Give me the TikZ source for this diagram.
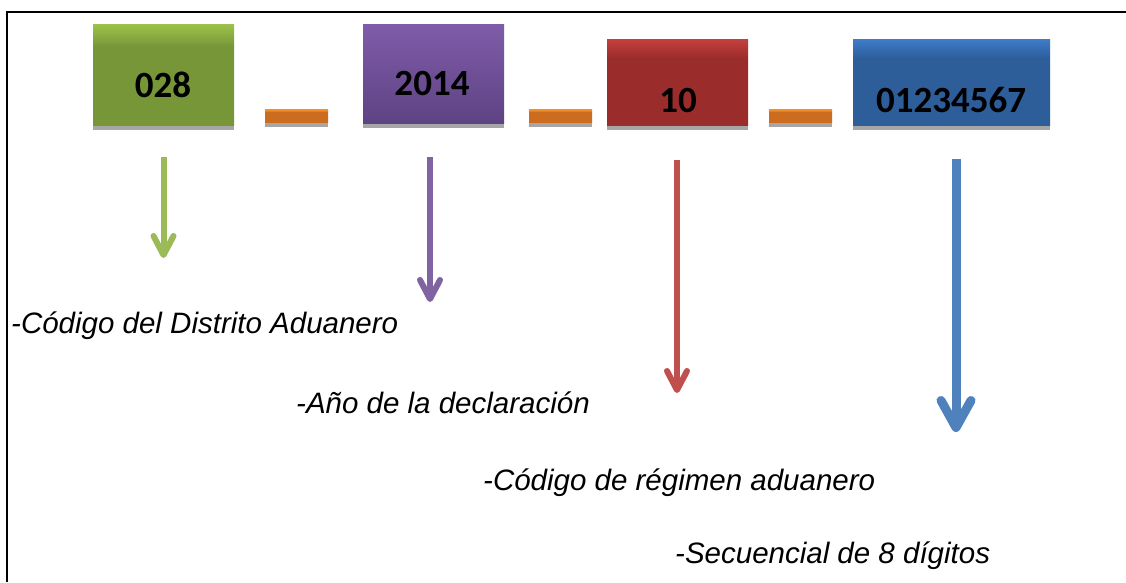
\documentclass[tikz,border=0pt]{standalone}
\usepackage{fontspec}
\setmainfont{Liberation Sans}
\newfontfamily\calib{Carlito}
\usetikzlibrary{arrows.meta}
\definecolor{gmain}{HTML}{779638}
\definecolor{glight}{HTML}{9DC24A}
\definecolor{ptop}{HTML}{7F5CA8}
\definecolor{pbot}{HTML}{5E4384}
\definecolor{rmain}{HTML}{9A2D2B}
\definecolor{rlight}{HTML}{C4403E}
\definecolor{bmain}{HTML}{2D5E99}
\definecolor{blight}{HTML}{3E7BC9}
\definecolor{omain}{HTML}{CB6C1E}
\definecolor{olight}{HTML}{F58D2A}
\definecolor{shgray}{HTML}{A6A6A6}
\definecolor{agreen}{HTML}{9BBB59}
\definecolor{apurple}{HTML}{8064A2}
\definecolor{ared}{HTML}{C0504D}
\definecolor{ablue}{HTML}{4F81BD}
\pgfdeclareverticalshading{gsh}{100bp}{color(0bp)=(gmain); color(64bp)=(gmain); color(75bp)=(glight); color(100bp)=(glight)}
\pgfdeclareverticalshading{rsh}{100bp}{color(0bp)=(rmain); color(64bp)=(rmain); color(75bp)=(rlight); color(100bp)=(rlight)}
\pgfdeclareverticalshading{bsh}{100bp}{color(0bp)=(bmain); color(64bp)=(bmain); color(75bp)=(blight); color(100bp)=(blight)}
\pgfdeclareverticalshading{osh}{100bp}{color(0bp)=(omain); color(66bp)=(omain); color(70bp)=(olight); color(100bp)=(olight)}
\tikzset{
  codebox/.style={draw=none, inner sep=0pt, anchor=north west},
  basebar/.style={fill=shgray, draw=none},
  numtext/.style={font=\calib\bfseries\fontsize{37}{40}\selectfont, inner sep=0pt, anchor=base},
  desc/.style={font=\itshape\fontsize{29.5}{32}\selectfont, inner sep=0pt, anchor=base west},
  darrow/.style={line width=#1, preaction={draw=shgray!80, transform canvas={xshift=1.5pt,yshift=-2pt}}},
}
\begin{document}
\begin{tikzpicture}[x=1pt,y=-1pt]
\useasboundingbox (0,0) rectangle (1126,582);
\fill[white] (0,0) rectangle (1126,582);
% frame
\draw[line width=2.5pt] (7,582) -- (7,12) -- (1126,12);
% gray base bars
\fill[basebar] (93,120) rectangle (234,130);
\fill[basebar] (265,118) rectangle (328,127);
\fill[basebar] (363,118) rectangle (504,128);
\fill[basebar] (529,118) rectangle (592,127);
\fill[basebar] (607,120) rectangle (748,130);
\fill[basebar] (769,118) rectangle (832,127);
\fill[basebar] (853,120) rectangle (1050,130);
% boxes
\node[codebox, shading=gsh, minimum width=141pt, minimum height=101pt] (bg) at (93,24) {};
\node[codebox, top color=ptop, bottom color=pbot, minimum width=141pt, minimum height=99pt] (bp) at (363,24) {};
\node[codebox, shading=rsh, minimum width=141pt, minimum height=86pt] (br) at (607,39) {};
\node[codebox, shading=bsh, minimum width=197pt, minimum height=86pt] (bb) at (853,39) {};
\node[codebox, shading=osh, minimum width=63pt, minimum height=13pt] (o1) at (265,109) {};
\node[codebox, shading=osh, minimum width=63pt, minimum height=13pt] (o2) at (529,109) {};
\node[codebox, shading=osh, minimum width=63pt, minimum height=13pt] (o3) at (769,109) {};
% numbers
\node[numtext] (tg) at (163,97) {028};
\node[numtext] (tp) at (432,95) {2014};
\node[numtext] (tr) at (678,112) {10};
\node[numtext] (tb) at (951,112) {01234567};
% arrow coordinates
\coordinate (ga) at (163.5,157);
\coordinate (gb) at (163.5,258);
\coordinate (pa) at (430,157);
\coordinate (pb) at (430,302);
\coordinate (ra) at (677,160);
\coordinate (rb) at (677,393);
\coordinate (ba) at (956,159);
\coordinate (bb2) at (956,432);
% arrows
\draw[darrow=6pt, agreen, -{Straight Barb[round, length=19pt, width=20pt]}] (ga) -- (gb);
\draw[darrow=6pt, apurple, -{Straight Barb[round, length=19pt, width=20pt]}] (pa) -- (pb);
\draw[darrow=6pt, ared, -{Straight Barb[round, length=19pt, width=20pt]}] (ra) -- (rb);
\draw[darrow=9pt, ablue, -{Straight Barb[round, length=27pt, width=30pt]}] (ba) -- (bb2);
% descriptions
\node[desc] (d1) at (11,333) {-Código del Distrito Aduanero};
\node[desc] (d2) at (296,413) {-Año de la declaración};
\node[desc] (d3) at (483,490) {-Código de régimen aduanero};
\node[desc] (d4) at (675,563) {-Secuencial de 8 dígitos};
\end{tikzpicture}
\end{document}
